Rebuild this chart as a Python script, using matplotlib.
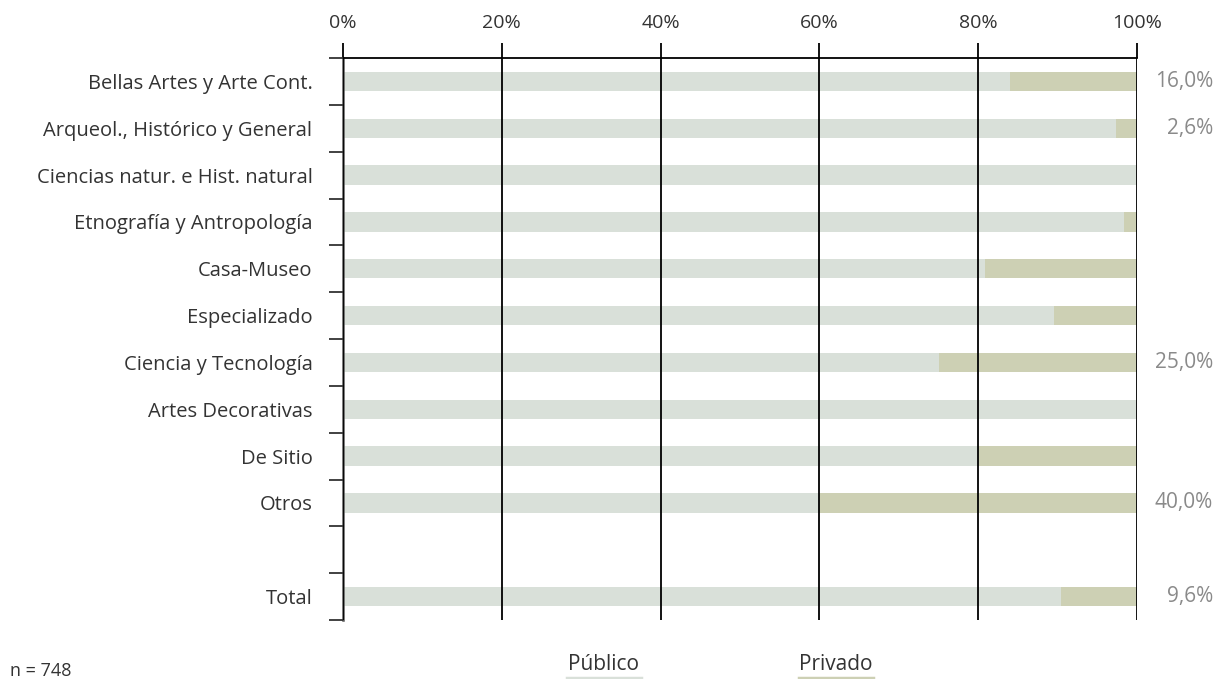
import numpy as np
import matplotlib.pyplot as plt
import matplotlib.transforms as mtransforms

plt.rcParams['font.family'] = ['Open Sans', 'DejaVu Sans']

categories = ["Bellas Artes y Arte Cont.", "Arqueol., Histórico y General",
              "Ciencias natur. e Hist. natural", "Etnografía y Antropología",
              "Casa-Museo", "Especializado", "Ciencia y Tecnología",
              "Artes Decorativas", "De Sitio", "Otros", "", "Total"]
privado = [16.0, 2.6, 0.0, 1.6, 19.2, 10.5, 25.0, 0.0, 20.0, 40.0, None, 9.6]
shown_labels = ["16,0%", "2,6%", "", "", "", "", "25,0%", "", "", "40,0%", "", "9,6%"]
x_ticks = [0, 20, 40, 60, 80, 100]

c_pub = "#d9e0d9"
c_priv = "#cdd0b4"
text_col = "#333333"

fig = plt.figure(figsize=(12.18, 6.79), dpi=100)
ax = fig.add_axes([343 / 1218, 1 - 620 / 679, (1137 - 343) / 1218, (620 - 58) / 679])

# labels on the right sit in figure x, data y
lab_tr = mtransforms.blended_transform_factory(fig.transFigure, ax.transData)

rows = np.arange(len(categories))
for i, p in enumerate(privado):
    if p is None:
        continue
    pub = 100 - p
    ax.barh(i, pub, left=0, height=0.41, color=c_pub, zorder=1)
    if p > 0:
        ax.barh(i, p, left=pub, height=0.41, color=c_priv, zorder=1)
    if shown_labels[i]:
        ax.text(1213 / 1218, i, shown_labels[i], transform=lab_tr,
                ha="right", va="center", fontsize=15, color="#8a8a8a")

ax.set_xlim(0, 100)
ax.set_ylim(len(categories) - 0.5, -0.5)

ax.xaxis.tick_top()
ax.set_xticks(x_ticks)
ax.set_xticklabels([f"{v}%" for v in x_ticks], fontsize=14, color=text_col)
ax.tick_params(axis="x", direction="out", length=11, width=1.3, color="black", pad=8)
ax.grid(axis="x", color="black", linewidth=1.3, zorder=3)
ax.set_axisbelow(False)

ax.set_yticks(np.arange(len(categories) + 1) - 0.5)
ax.set_yticklabels([])
ax.set_yticks(rows, minor=True)
ax.set_yticklabels(categories, minor=True, fontsize=14.5, color=text_col)
ax.tick_params(axis="y", which="major", direction="out", length=10, width=1.3, color="#333333")
ax.tick_params(axis="y", which="minor", length=0, pad=22)

for s in ["right", "bottom"]:
    ax.spines[s].set_visible(False)
ax.spines["left"].set_color("#555555")
ax.spines["left"].set_linewidth(1.8)
ax.spines["top"].set_color("black")
ax.spines["top"].set_linewidth(1.3)

# legend
fig.text(604 / 1218, 1 - 665 / 679, "Público", ha="center", va="center", fontsize=15, color=text_col)
fig.text(836 / 1218, 1 - 665 / 679, "Privado", ha="center", va="center", fontsize=15, color=text_col)
fig.add_artist(plt.Line2D([567 / 1218, 641 / 1218], [1 - 678 / 679] * 2, color=c_pub, lw=2.5))
fig.add_artist(plt.Line2D([799 / 1218, 873 / 1218], [1 - 678 / 679] * 2, color=c_priv, lw=2.5))
fig.text(10 / 1218, 1 - 671 / 679, "n = 748", ha="left", va="center", fontsize=13, color=text_col)

fig.savefig("out.png", dpi=100)
